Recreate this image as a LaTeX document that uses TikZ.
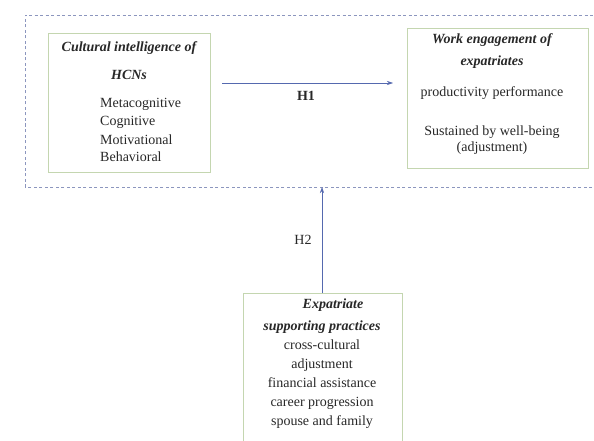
\documentclass[tikz,border=0pt]{standalone}
\usepackage{fontspec}
\setmainfont{Liberation Serif}
\usepackage{xcolor}
\usepackage{tikz}
\usetikzlibrary{arrows.meta,positioning}
\definecolor{boxgreen}{RGB}{196,214,176}
\definecolor{arrowblue}{RGB}{85,105,175}
\definecolor{frameblue}{RGB}{140,150,190}
\definecolor{textdark}{RGB}{40,40,40}

\tikzset{
  varbox/.style={draw=boxgreen, line width=0.9pt, inner sep=0pt},
  txt/.style={inner sep=0pt, text=textdark, font=\fontsize{14}{17}\selectfont},
  ttl/.style={txt, font=\fontsize{14}{17}\selectfont\bfseries\itshape},
  hyp/.style={-{Stealth[length=6pt,width=4pt]}, draw=arrowblue, line width=0.6pt}
}

\begin{document}
\begin{tikzpicture}[x=1pt,y=1pt]
  \useasboundingbox[fill=white] (0,0) rectangle (594,440);
  % moderated area
  \draw[frameblue, line width=0.9pt, dash pattern=on 3pt off 2.5pt]
    (25,253) rectangle (604,425);
  % boxes
  \node[varbox, minimum width=162pt, minimum height=139pt] (cqBox) at (129,337.5) {};
  \node[varbox, minimum width=181pt, minimum height=140pt] (weBox) at (497.5,342) {};
  \node[varbox, minimum width=159pt, minimum height=170pt, anchor=north] (espBox) at (322.5,147) {};
  % cultural intelligence
  \node[ttl] (cqTitle) at (129,392) {Cultural intelligence of};
  \node[ttl] (cqHcn) at (129,365) {HCNs};
  \node[txt, anchor=west] (cqMeta) at (100,336) {Metacognitive};
  \node[txt, anchor=west] (cqCog) at (100,318) {Cognitive};
  \node[txt, anchor=west] (cqMot) at (100,300) {Motivational};
  \node[txt, anchor=west] (cqBeh) at (100,283) {Behavioral};
  % work engagement
  \node[ttl] (weTitle) at (492,400) {Work engagement of};
  \node[ttl] (weExp) at (492,378) {expatriates};
  \node[txt] (weProd) at (492,347) {productivity performance};
  \node[txt] (weSus) at (492,308) {Sustained by well-being};
  \node[txt] (weAdj) at (492,292) {(adjustment)};
  % supporting practices
  \node[ttl] (espTitle) at (333,135) {Expatriate};
  \node[ttl] (espSup) at (322,113) {supporting practices};
  \node[txt] (espCross) at (322,95) {cross-cultural};
  \node[txt] (espAdj) at (322,75) {adjustment};
  \node[txt] (espFin) at (322,57) {financial assistance};
  \node[txt] (espCar) at (322,37) {career progression};
  \node[txt] (espSpo) at (322,18) {spouse and family};
  % hypotheses
  \coordinate (h1start) at (222,357);
  \coordinate (h1end) at (393,357);
  \draw[hyp] (h1start) -- (h1end);
  \node[txt, font=\fontsize{14}{17}\selectfont\bfseries] (h1) at (306,344) {H1};
  \coordinate (h2end) at (322,253);
  \draw[hyp] (espBox.north -| h2end) -- (h2end);
  \node[txt] (h2) at (303,200) {H2};
\end{tikzpicture}
\end{document}
